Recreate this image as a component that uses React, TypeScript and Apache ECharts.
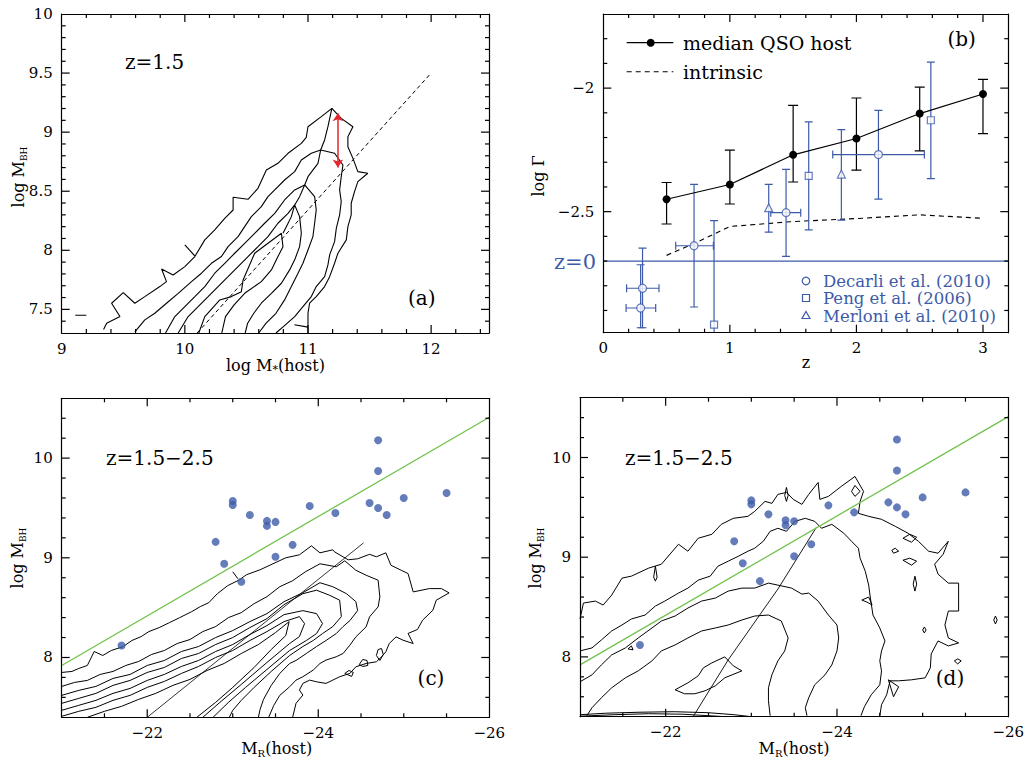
import React, { useEffect, useRef } from 'react';
import * as echarts from 'echarts';

const FONT = '"DejaVu Serif", "Liberation Serif", serif';
const BLUE = '#3d5ba9';
const GREEN = '#72c24c';
const RED = '#e3262b';

// ---------------- Axis ranges and tick steps ----------------
const A_X_RANGE = [9, 12.47];
const A_Y_RANGE = [7.3, 10];
const B_X_RANGE = [0, 3.2];
const B_Y_RANGE = [-2.99, -1.7];
const CD_X_RANGE = [-26, -21];
const CD_Y_RANGE = [7.4, 10.6];
const A_TICK_STEPS = { xMajor: 1, xMinor: 0.2, yMajor: 0.5, yMinor: 0.1 };
const B_TICK_STEPS = { xMajor: 1, xMinor: 0.2, yMajor: 0.5, yMinor: 0.1 };
const CD_TICK_STEPS = { xMajor: 2, xMinor: 0.5, yMajor: 1, yMinor: 0.2 };

// ---------------- Panel (a) ----------------
const A_OUTER = [[9.34,7.33],[9.365,7.383],[9.473,7.439],[9.405,7.552],[9.50,7.642],[9.594,7.552],[9.675,7.608],[9.797,7.693],[9.851,7.735],[9.811,7.842],[9.905,7.791],[10.0,7.862],[10.081,7.947],[10.162,8.088],[10.243,8.172],[10.324,8.271],[10.392,8.341],[10.392,8.449],[10.513,8.432],[10.594,8.525],[10.662,8.68],[10.756,8.736],[10.838,8.821],[10.946,8.905],[10.986,8.956],[11.0,9.046],[11.108,9.131],[11.194,9.201],[11.27,9.117],[11.365,9.046],[11.324,8.962],[11.324,8.877],[11.365,8.778],[11.405,8.666],[11.486,8.652],[11.405,8.581],[11.378,8.496],[11.351,8.398],[11.351,8.299],[11.324,8.2],[11.311,8.088],[11.243,7.975],[11.216,7.89],[11.176,7.777],[11.135,7.693],[11.067,7.608],[11.013,7.552],[11.0,7.467],[11.0,7.30]];
const A_B = [[9.594,7.31],[9.675,7.411],[9.756,7.467],[9.851,7.552],[9.946,7.636],[10.054,7.735],[10.135,7.806],[10.216,7.89],[10.297,7.947],[10.351,8.031],[10.432,8.116],[10.486,8.2],[10.54,8.285],[10.621,8.37],[10.675,8.454],[10.73,8.511],[10.81,8.595],[10.892,8.666],[10.946,8.764],[11.027,8.821],[11.103,8.849],[11.216,8.821],[11.284,8.722],[11.27,8.623],[11.257,8.511],[11.27,8.412],[11.257,8.299],[11.23,8.186],[11.216,8.073],[11.176,7.961],[11.162,7.876],[11.135,7.777],[11.067,7.693],[11.027,7.608],[10.959,7.524],[10.892,7.439],[10.8,7.354],[10.74,7.30]];
const A_C = [[9.843,7.30],[9.919,7.439],[10.0,7.524],[10.081,7.608],[10.162,7.693],[10.243,7.806],[10.324,7.89],[10.405,7.975],[10.486,8.059],[10.567,8.144],[10.648,8.229],[10.73,8.313],[10.81,8.426],[10.892,8.511],[10.973,8.553],[11.054,8.454],[11.067,8.341],[11.054,8.229],[11.04,8.116],[11.0,8.003],[10.959,7.89],[10.919,7.806],[10.865,7.693],[10.81,7.58],[10.74,7.467],[10.66,7.383],[10.60,7.30]];
const A_D = [[9.946,7.30],[10.027,7.439],[10.108,7.524],[10.189,7.608],[10.27,7.693],[10.351,7.777],[10.432,7.862],[10.513,7.947],[10.594,8.031],[10.675,8.116],[10.756,8.229],[10.838,8.313],[10.892,8.384],[10.932,8.285],[10.946,8.144],[10.932,8.031],[10.892,7.919],[10.851,7.834],[10.784,7.721],[10.703,7.636],[10.621,7.552],[10.56,7.467],[10.51,7.383],[10.49,7.30]];
const A_E = [[10.113,7.30],[10.162,7.439],[10.284,7.58],[10.378,7.608],[10.459,7.65],[10.473,7.749],[10.567,7.975],[10.621,8.017],[10.784,8.144],[10.797,8.031],[10.756,7.947],[10.703,7.834],[10.621,7.735],[10.486,7.636],[10.40,7.538],[10.33,7.439],[10.30,7.30]];
const A_RIDGE = [[11.194,9.201],[11.162,9.046],[11.135,8.934],[11.103,8.849],[11.081,8.736],[11.0,8.623],[10.973,8.553],[10.932,8.454],[10.892,8.384],[10.865,8.285],[10.824,8.2],[10.797,8.144]];
const A_TICK = [[10.0,8.045],[10.081,7.952]];
const A_SEG = [[10.89,7.37],[11.0,7.35]];
const A_LEFT_SEG = [[9.11,7.45],[9.2,7.45]];
const A_DASHED = [[10.1,7.3],[12.0,9.5]];
const A_ARROW = [[11.243,9.16],[11.243,8.70]];

// ---------------- Panel (b) ----------------
const MEDIAN_Z = [0.5, 1.0, 1.5, 2.0, 2.5, 3.0];
const MEDIAN_G = [-2.45, -2.39, -2.27, -2.204, -2.103, -2.024];
const MEDIAN_LO = [-2.55, -2.469, -2.38, -2.332, -2.254, -2.184];
const MEDIAN_HI = [-2.382, -2.251, -2.07, -2.04, -1.996, -1.965];
const INTRINSIC_Z = [0.5, 0.75, 1.0, 1.5, 2.0, 2.5, 3.0];
const INTRINSIC_G = [-2.677, -2.621, -2.56, -2.54, -2.528, -2.513, -2.527];
const Z0_LEVEL = -2.7;
const DECARLI_Z = [0.31, 0.295, 0.717, 1.444, 2.174];
const DECARLI_G = [-2.81, -2.89, -2.638, -2.504, -2.269];
const DECARLI_LO = [-2.97, -2.97, -2.886, -2.681, -2.449];
const DECARLI_HI = [-2.648, -2.715, -2.39, -2.329, -2.09];
const DECARLI_ZLO = [0.184, 0.18, 0.572, 1.323, 1.813];
const DECARLI_ZHI = [0.44, 0.414, 0.87, 1.56, 2.537];
const PENG_Z = [0.875, 1.623, 2.588];
const PENG_G = [-2.957, -2.355, -2.13];
const PENG_LO = [-3.1, -2.574, -2.366];
const PENG_HI = [-2.536, -2.137, -1.895];
const MERLONI_Z = [1.307, 1.881];
const MERLONI_G = [-2.484, -2.348];
const MERLONI_LO = [-2.583, -2.534];
const MERLONI_HI = [-2.39, -2.168];

// ---------------- Panels (c), (d) ----------------
const QSO_MR = [-21.7, -22.8, -22.9, -23.0, -23.0, -23.1, -23.2, -23.4, -23.4, -23.5, -23.5, -23.7, -23.9, -24.2, -24.6, -24.7, -24.7, -24.7, -24.8, -25.0, -25.5];
const QSO_MBH = [8.12, 9.16, 8.94, 9.57, 9.53, 8.76, 9.43, 9.37, 9.32, 9.36, 9.01, 9.13, 9.52, 9.45, 9.55, 10.18, 9.87, 9.50, 9.43, 9.60, 9.65];
const GREEN_MR = [-21, -26];
const GREEN_MBH = [7.92, 10.41];

const C_R = [[-21.0,7.85],[-21.12,7.86],[-21.2,7.89],[-21.3,7.92],[-21.38,8.06],[-21.48,8.02],[-21.58,8.07],[-21.72,8.11],[-21.82,8.17],[-21.93,8.21],[-22.02,8.26],[-22.14,8.30],[-22.26,8.35],[-22.38,8.40],[-22.52,8.46],[-22.62,8.51],[-22.72,8.55],[-22.82,8.64],[-22.94,8.72],[-23.08,8.78],[-23.16,8.83],[-23.32,8.88],[-23.47,8.94],[-23.62,9.0],[-23.78,9.03],[-23.92,9.12],[-24.02,9.05],[-24.17,9.08],[-24.19,9.06],[-24.35,8.98],[-24.46,8.99],[-24.6,9.035],[-24.68,9.01],[-24.79,9.05],[-24.85,8.925],[-24.97,8.875],[-25.05,8.842],[-25.11,8.658],[-25.3,8.691],[-25.44,8.691],[-25.53,8.648],[-25.38,8.575],[-25.34,8.474],[-25.22,8.374],[-25.16,8.281],[-25.05,8.241],[-25.11,8.14],[-24.99,8.174],[-24.91,8.207],[-24.83,8.14],[-24.79,8.057],[-24.74,8.007],[-24.68,7.957],[-24.56,7.94],[-24.44,7.907],[-24.37,7.84],[-24.25,7.807],[-24.17,7.773],[-24.09,7.74],[-23.98,7.756],[-23.9,7.773],[-23.82,7.74],[-23.78,7.673],[-23.82,7.623],[-23.74,7.54],[-23.70,7.40]];
const C_2 = [[-21.0,7.71],[-21.15,7.75],[-21.3,7.77],[-21.45,7.83],[-21.6,7.86],[-21.75,7.92],[-21.9,7.96],[-22.05,8.03],[-22.2,8.07],[-22.35,8.14],[-22.5,8.18],[-22.65,8.26],[-22.8,8.31],[-22.95,8.40],[-23.1,8.45],[-23.25,8.54],[-23.4,8.61],[-23.55,8.71],[-23.7,8.77],[-23.85,8.86],[-24.02,8.94],[-24.21,8.91],[-24.31,8.97],[-24.44,8.875],[-24.56,8.825],[-24.70,8.775],[-24.72,8.608],[-24.70,8.508],[-24.6,8.408],[-24.56,8.308],[-24.44,8.207],[-24.37,8.124],[-24.29,8.04],[-24.21,8.007],[-24.09,7.974],[-24.02,7.94],[-23.94,7.873],[-23.82,7.807],[-23.74,7.773],[-23.665,7.706],[-23.55,7.62],[-23.48,7.52],[-23.42,7.40]];
const C_3 = [[-21.0,7.62],[-21.2,7.67],[-21.4,7.71],[-21.6,7.79],[-21.8,7.83],[-22.0,7.92],[-22.2,7.97],[-22.4,8.06],[-22.6,8.11],[-22.8,8.20],[-23.0,8.27],[-23.2,8.36],[-23.4,8.44],[-23.6,8.56],[-23.82,8.65],[-24.02,8.75],[-24.17,8.71],[-24.33,8.64],[-24.44,8.56],[-24.46,8.47],[-24.37,8.37],[-24.29,8.31],[-24.21,8.24],[-24.09,8.17],[-23.98,8.11],[-23.86,8.04],[-23.74,7.97],[-23.665,7.94],[-23.55,7.84],[-23.45,7.72],[-23.36,7.58],[-23.32,7.48],[-23.3,7.40]];
const C_4 = [[-21.0,7.54],[-21.2,7.59],[-21.4,7.64],[-21.6,7.72],[-21.8,7.77],[-22.0,7.85],[-22.2,7.90],[-22.4,7.99],[-22.6,8.04],[-22.8,8.13],[-23.0,8.20],[-23.2,8.30],[-23.4,8.39],[-23.6,8.53],[-23.82,8.64],[-23.98,8.675],[-24.13,8.625],[-24.25,8.575],[-24.27,8.41],[-24.17,8.31],[-24.05,8.24],[-23.94,8.17],[-23.82,8.11],[-23.665,8.02],[-23.45,7.86],[-23.25,7.70],[-23.1,7.57],[-23.0,7.47],[-22.96,7.40]];
const C_5 = [[-21.0,7.47],[-21.2,7.52],[-21.4,7.57],[-21.6,7.64],[-21.8,7.69],[-22.0,7.77],[-22.2,7.83],[-22.4,7.91],[-22.6,7.97],[-22.8,8.06],[-23.0,8.13],[-23.2,8.23],[-23.4,8.32],[-23.6,8.43],[-23.82,8.47],[-23.98,8.44],[-24.05,8.34],[-23.98,8.24],[-23.86,8.17],[-23.665,8.07],[-23.4,7.88],[-23.15,7.70],[-22.95,7.55],[-22.77,7.40]];
const C_6 = [[-21.0,7.41],[-21.2,7.46],[-21.4,7.50],[-21.6,7.57],[-21.8,7.62],[-22.0,7.70],[-22.2,7.76],[-22.4,7.84],[-22.6,7.91],[-22.8,8.00],[-23.0,8.07],[-23.2,8.17],[-23.4,8.26],[-23.6,8.36],[-23.78,8.41],[-23.84,8.34],[-23.78,8.21],[-23.665,8.14],[-23.4,7.95],[-23.1,7.73],[-22.85,7.55],[-22.65,7.40]];
const C_7 = [[-21.3,7.40],[-21.5,7.46],[-21.7,7.51],[-21.9,7.58],[-22.1,7.64],[-22.3,7.72],[-22.5,7.78],[-22.7,7.87],[-22.9,7.94],[-23.1,8.04],[-23.3,8.13],[-23.5,8.25],[-23.66,8.36],[-23.62,8.22],[-23.45,8.08],[-23.25,7.90],[-23.0,7.70],[-22.8,7.55],[-22.58,7.40]];
const C_DIAG = [[-22.0,7.40],[-24.53,9.15]];
const C_TICK = [[-23.0,8.86],[-23.06,8.79]];
const C_LOOP1 = [[-24.31,7.84],[-24.36,7.87],[-24.41,7.85],[-24.39,7.81],[-24.31,7.84]];
const C_LOOP2 = [[-24.48,7.93],[-24.52,7.98],[-24.57,7.97],[-24.58,7.92],[-24.52,7.91],[-24.48,7.93]];
const C_LOOP3 = [[-24.68,8.02],[-24.70,8.08],[-24.74,8.09],[-24.76,8.03],[-24.72,7.97],[-24.68,8.02]];

const D_1 = [[-21.0,8.38],[-21.04,8.54],[-21.18,8.56],[-21.27,8.52],[-21.37,8.62],[-21.49,8.79],[-21.60,8.81],[-21.80,8.89],[-21.95,8.93],[-22.15,9.13],[-22.26,9.06],[-22.38,9.19],[-22.54,9.23],[-22.65,9.33],[-22.79,9.39],[-22.96,9.41],[-23.04,9.46],[-23.16,9.56],[-23.24,9.54],[-23.31,9.63],[-23.41,9.65],[-23.49,9.58],[-23.59,9.53],[-23.67,9.63],[-23.78,9.75],[-23.80,9.58],[-23.90,9.61],[-24.05,9.71],[-24.21,9.81],[-24.31,9.66],[-24.27,9.56],[-24.25,9.44],[-24.37,9.41],[-24.52,9.38],[-24.68,9.31],[-24.83,9.24],[-24.95,9.16],[-25.07,9.06],[-25.18,9.04],[-25.30,9.16],[-25.24,9.03],[-25.14,8.93],[-25.18,8.83],[-25.30,8.74],[-25.42,8.74],[-25.42,8.46],[-25.30,8.46],[-25.26,8.32],[-25.30,8.19],[-25.42,8.14],[-25.30,8.11],[-25.18,8.16],[-25.10,8.03],[-25.09,7.89],[-25.03,7.79],[-24.87,7.77],[-24.72,7.76],[-24.62,7.76],[-24.58,7.62],[-24.52,7.52],[-24.50,7.41]];
const D_2 = [[-21.0,8.06],[-21.14,8.09],[-21.25,8.17],[-21.37,8.26],[-21.49,8.32],[-21.60,8.38],[-21.76,8.42],[-21.88,8.51],[-21.99,8.56],[-22.15,8.64],[-22.26,8.69],[-22.38,8.77],[-22.52,8.81],[-22.61,8.91],[-22.73,8.96],[-22.85,9.01],[-22.96,9.06],[-23.04,9.09],[-23.14,9.16],[-23.22,9.26],[-23.31,9.29],[-23.41,9.26],[-23.51,9.36],[-23.63,9.39],[-23.74,9.36],[-23.82,9.29],[-23.94,9.33],[-24.08,9.24],[-24.17,9.16],[-24.25,9.09],[-24.27,8.99],[-24.33,8.86],[-24.37,8.72],[-24.39,8.59],[-24.42,8.42],[-24.50,8.29],[-24.56,8.16],[-24.52,8.06],[-24.50,7.96],[-24.52,7.86],[-24.50,7.72],[-24.40,7.62],[-24.32,7.50],[-24.28,7.41]];
const D_3 = [[-21.0,7.75],[-21.14,7.82],[-21.25,7.92],[-21.37,8.02],[-21.53,8.09],[-21.68,8.19],[-21.84,8.29],[-21.95,8.36],[-22.11,8.41],[-22.26,8.49],[-22.42,8.56],[-22.58,8.59],[-22.73,8.66],[-22.89,8.69],[-23.04,8.69],[-23.20,8.74],[-23.31,8.72],[-23.47,8.69],[-23.59,8.63],[-23.67,8.64],[-23.78,8.56],[-23.90,8.42],[-24.0,8.32],[-24.02,8.19],[-24.0,8.06],[-23.94,7.92],[-23.86,7.82],[-23.74,7.72],[-23.67,7.59],[-23.63,7.49],[-23.65,7.41]];
const D_4 = [[-21.08,7.41],[-21.14,7.49],[-21.25,7.59],[-21.37,7.69],[-21.53,7.79],[-21.68,7.86],[-21.84,7.96],[-21.95,8.06],[-22.11,8.12],[-22.26,8.19],[-22.42,8.26],[-22.58,8.29],[-22.73,8.32],[-22.89,8.37],[-23.04,8.41],[-23.20,8.42],[-23.35,8.36],[-23.43,8.19],[-23.39,8.06],[-23.31,7.96],[-23.24,7.82],[-23.20,7.69],[-23.20,7.56],[-23.22,7.41]];
const D_5 = [[-22.11,7.67],[-22.26,7.74],[-22.38,7.81],[-22.44,7.89],[-22.54,7.94],[-22.69,8.0],[-22.79,7.91],[-22.89,7.86],[-22.69,7.79],[-22.58,7.71],[-22.46,7.66],[-22.34,7.63],[-22.22,7.63],[-22.11,7.67]];
const D_ARC1 = [[-21.0,7.42],[-21.3,7.435],[-21.7,7.445],[-22.1,7.45],[-22.5,7.44],[-22.8,7.42],[-23.0,7.40]];
const D_ARC2 = [[-21.0,7.405],[-21.4,7.42],[-21.8,7.43],[-22.2,7.425],[-22.5,7.41],[-22.7,7.40]];
const D_DIAG = [[-22.32,7.40],[-22.73,7.97],[-23.31,8.68],[-23.76,9.30]];
const D_LOOPS = [
  [[-21.86,8.80],[-21.88,8.91],[-21.90,8.80],[-21.88,8.76],[-21.86,8.80]],
  [[-23.39,9.62],[-23.41,9.70],[-23.43,9.62],[-23.41,9.56],[-23.39,9.62]],
  [[-24.17,9.66],[-24.21,9.72],[-24.27,9.66],[-24.21,9.61],[-24.17,9.66]],
  [[-24.77,9.19],[-24.85,9.23],[-24.93,9.20],[-24.87,9.15],[-24.77,9.19]],
  [[-24.64,9.07],[-24.68,9.09],[-24.72,9.06],[-24.66,9.04],[-24.64,9.07]],
  [[-24.77,8.97],[-24.85,8.99],[-24.93,8.96],[-24.87,8.92],[-24.77,8.97]],
  [[-24.89,8.73],[-24.91,8.81],[-24.93,8.73],[-24.91,8.66],[-24.89,8.73]],
  [[-24.29,8.57],[-24.37,8.60],[-24.41,8.52],[-24.35,8.55],[-24.29,8.57]],
  [[-25.0,8.27],[-25.02,8.30],[-25.04,8.27],[-25.02,8.24],[-25.0,8.27]],
  [[-25.83,8.37],[-25.85,8.41],[-25.87,8.37],[-25.85,8.33],[-25.83,8.37]],
  [[-25.37,7.96],[-25.41,7.98],[-25.45,7.96],[-25.41,7.93],[-25.37,7.96]],
  [[-24.60,7.77],[-24.72,7.70],[-24.66,7.60],[-24.60,7.77]],
  [[-21.56,8.08],[-21.60,8.11],[-21.62,8.07],[-21.56,8.08]],
];

// ---------------- helpers ----------------
const zip = (a: number[], b: number[]) => a.map((v, i) => [v, b[i]]);
const fmt = (v: number) => {
  const r = Math.round(v * 100) / 100;
  const s = String(Math.abs(r));
  return r < 0 ? '\u2212' + s : s;
};
const isMult = (v: number, iv: number) => Math.abs(v / iv - Math.round(v / iv)) < 1e-6;

// tick positions strictly inside a range, at multiples of step
function tickValues(range: number[], step: number) {
  const out: number[] = [];
  const start = Math.ceil(range[0] / step - 1e-9);
  const end = Math.floor(range[1] / step + 1e-9);
  for (let k = start; k <= end; k++) {
    const v = Math.round(k * step * 1e6) / 1e6;
    if (v > range[0] + 1e-9 && v < range[1] - 1e-9) out.push(v);
  }
  return out;
}

function makeAxes(g: number, dim: 'x' | 'y', range: number[], major: number, inverse = false) {
  const pos = dim === 'x' ? ['bottom', 'top'] : ['left', 'right'];
  const mk = (position: string, labels: boolean) => ({
    type: 'value', gridIndex: g, min: range[0], max: range[1], inverse, position, z: 10,
    minInterval: major, maxInterval: major, splitNumber: Math.round((range[1] - range[0]) / major),
    axisLine: { show: true, onZero: false, lineStyle: { color: '#000', width: 1.2 } },
    splitLine: { show: false }, splitArea: { show: false },
    axisTick: { show: false },
    axisLabel: labels
      ? { show: true, margin: dim === 'x' ? 8 : 9, color: '#000', fontFamily: FONT, fontSize: 15,
          formatter: (v: number) => (isMult(v, major) ? fmt(v) : '') }
      : { show: false },
  });
  return [mk(pos[0], true), mk(pos[1], false)];
}

const GRID_BOXES = [
  { left: 61.7, top: 14, width: 427.3, height: 319 },
  { left: 603.3, top: 14, width: 405, height: 318.7 },
  { left: 61.7, top: 398.3, width: 427.6, height: 319 },
  { left: 580, top: 397.7, width: 428.3, height: 319 },
];

// frame ticks on all four sides, placed with the same linear mapping the axes use
function frameTicks(box: any, xr: number[], yr: number[], steps: any, xInverse = false) {
  const els: any[] = [];
  const st = { stroke: '#000', lineWidth: 1.2 };
  const toPx = (v: number) => box.left + ((xInverse ? xr[1] - v : v - xr[0]) / (xr[1] - xr[0])) * box.width;
  const toPy = (v: number) => box.top + box.height - ((v - yr[0]) / (yr[1] - yr[0])) * box.height;
  const bottom = box.top + box.height, top = box.top, left = box.left, right = box.left + box.width;
  tickValues(xr, steps.xMinor).forEach((v) => {
    const len = isMult(v, steps.xMajor) ? 8 : 4;
    const px = toPx(v);
    els.push({ type: 'line', silent: true, z: 90, shape: { x1: px, y1: bottom, x2: px, y2: bottom - len }, style: st });
    els.push({ type: 'line', silent: true, z: 90, shape: { x1: px, y1: top, x2: px, y2: top + len }, style: st });
  });
  tickValues(yr, steps.yMinor).forEach((v) => {
    const len = isMult(v, steps.yMajor) ? 8 : 4;
    const py = toPy(v);
    els.push({ type: 'line', silent: true, z: 90, shape: { x1: left, y1: py, x2: left + len, y2: py }, style: st });
    els.push({ type: 'line', silent: true, z: 90, shape: { x1: right, y1: py, x2: right - len, y2: py }, style: st });
  });
  return els;
}

const lineS = (g: number, data: number[][], extra: any = {}) => ({
  type: 'line', xAxisIndex: 2 * g, yAxisIndex: 2 * g, data, symbol: 'none', showSymbol: false,
  silent: true, lineStyle: { color: '#000', width: 1, ...(extra.lineStyle || {}) }, z: extra.z ?? 2,
});

const errData = (xs: number[], ys: number[], lo: number[], hi: number[], xlo?: number[], xhi?: number[]) =>
  xs.map((x, i) => [x, ys[i], lo[i], hi[i], xlo ? xlo[i] : x, xhi ? xhi[i] : x]);

const errSeries = (g: number, data: number[][], color: string, cap: number) => ({
  type: 'custom', xAxisIndex: 2 * g, yAxisIndex: 2 * g, clip: true, silent: true, z: 3,
  encode: { x: [0, 4, 5], y: [1, 2, 3] },
  data,
  renderItem: (params: any, api: any) => {
    const x = api.value(0), y = api.value(1), ylo = api.value(2), yhi = api.value(3), xlo = api.value(4), xhi = api.value(5);
    const lo = api.coord([x, ylo]);
    const hi = api.coord([x, yhi]);
    const st = { stroke: color, lineWidth: 1.2, fill: 'none' };
    const children: any[] = [
      { type: 'line', shape: { x1: lo[0], y1: lo[1], x2: hi[0], y2: hi[1] }, style: st },
      { type: 'line', shape: { x1: lo[0] - cap, y1: lo[1], x2: lo[0] + cap, y2: lo[1] }, style: st },
      { type: 'line', shape: { x1: hi[0] - cap, y1: hi[1], x2: hi[0] + cap, y2: hi[1] }, style: st },
    ];
    if (xhi > xlo) {
      const l = api.coord([xlo, y]);
      const r = api.coord([xhi, y]);
      children.push(
        { type: 'line', shape: { x1: l[0], y1: l[1], x2: r[0], y2: r[1] }, style: st },
        { type: 'line', shape: { x1: l[0], y1: l[1] - cap, x2: l[0], y2: l[1] + cap }, style: st },
        { type: 'line', shape: { x1: r[0], y1: r[1] - cap, x2: r[0], y2: r[1] + cap }, style: st },
      );
    }
    return { type: 'group', children };
  },
});

const txt = (x: number, y: number, text: string, size: number, align = 'left', color = '#000', extra: any = {}) => ({
  type: 'text', x, y, silent: true, z: 100, ...extra,
  style: {
    text, fill: color, fontFamily: FONT, fontSize: size,
    align, verticalAlign: 'middle', textAlign: align, textVerticalAlign: 'middle',
    ...(extra.style || {}),
  },
});

const subRich = (main: number, sub: number) => ({
  lineHeight: main + 4,
  rich: { s: { fontFamily: FONT, fontSize: sub, lineHeight: sub, verticalAlign: 'bottom', fill: '#000' } },
});

function buildOption() {
  const grids = GRID_BOXES.map((g) => ({ ...g, show: false, containLabel: false, outerBoundsMode: 'none' }));

  const xAxis = [
    ...makeAxes(0, 'x', A_X_RANGE, A_TICK_STEPS.xMajor),
    ...makeAxes(1, 'x', B_X_RANGE, B_TICK_STEPS.xMajor),
    ...makeAxes(2, 'x', CD_X_RANGE, CD_TICK_STEPS.xMajor, true),
    ...makeAxes(3, 'x', CD_X_RANGE, CD_TICK_STEPS.xMajor, true),
  ];
  const yAxis = [
    ...makeAxes(0, 'y', A_Y_RANGE, A_TICK_STEPS.yMajor),
    ...makeAxes(1, 'y', B_Y_RANGE, B_TICK_STEPS.yMajor),
    ...makeAxes(2, 'y', CD_Y_RANGE, CD_TICK_STEPS.yMajor),
    ...makeAxes(3, 'y', CD_Y_RANGE, CD_TICK_STEPS.yMajor),
  ];

  const series: any[] = [];
  // (a)
  [A_OUTER, A_B, A_C, A_D, A_E, A_RIDGE, A_TICK, A_SEG, A_LEFT_SEG].forEach((d) => series.push(lineS(0, d, { lineStyle: { width: 1.1 } })));
  series.push(lineS(0, A_DASHED, { lineStyle: { type: [4, 3], width: 1 } }));
  series.push({
    type: 'lines', coordinateSystem: 'cartesian2d', xAxisIndex: 0, yAxisIndex: 0, silent: true, z: 5,
    data: [{ coords: A_ARROW }], symbol: ['arrow', 'arrow'], symbolSize: 8,
    lineStyle: { color: RED, width: 1.5, opacity: 1, curveness: 0 },
  });

  // (b)
  series.push({
    type: 'line', xAxisIndex: 2, yAxisIndex: 2, data: [[0, Z0_LEVEL], [3.2, Z0_LEVEL]], symbol: 'none', silent: true,
    lineStyle: { color: BLUE, width: 1.2 }, z: 1,
  });
  series.push(lineS(1, zip(INTRINSIC_Z, INTRINSIC_G), { lineStyle: { type: [5, 4], width: 1.1 } }));
  series.push(errSeries(1, errData(MEDIAN_Z, MEDIAN_G, MEDIAN_LO, MEDIAN_HI), '#000', 5));
  series.push({
    type: 'line', xAxisIndex: 2, yAxisIndex: 2, data: zip(MEDIAN_Z, MEDIAN_G), symbol: 'circle', symbolSize: 8, silent: true,
    itemStyle: { color: '#000' }, lineStyle: { color: '#000', width: 1.2 }, z: 4,
  });
  series.push(errSeries(1, errData(DECARLI_Z, DECARLI_G, DECARLI_LO, DECARLI_HI, DECARLI_ZLO, DECARLI_ZHI), BLUE, 4));
  series.push(errSeries(1, errData(PENG_Z, PENG_G, PENG_LO, PENG_HI), BLUE, 4));
  series.push(errSeries(1, errData(MERLONI_Z, MERLONI_G, MERLONI_LO, MERLONI_HI), BLUE, 4));
  const openStyle = { color: '#fff', borderColor: BLUE, borderWidth: 1.2 };
  series.push({ type: 'scatter', xAxisIndex: 2, yAxisIndex: 2, data: zip(DECARLI_Z, DECARLI_G), symbol: 'circle', symbolSize: 8, itemStyle: openStyle, z: 5, silent: true });
  series.push({ type: 'scatter', xAxisIndex: 2, yAxisIndex: 2, data: zip(PENG_Z, PENG_G), symbol: 'rect', symbolSize: 7, itemStyle: openStyle, z: 5, silent: true });
  series.push({ type: 'scatter', xAxisIndex: 2, yAxisIndex: 2, data: zip(MERLONI_Z, MERLONI_G), symbol: 'triangle', symbolSize: 8, itemStyle: openStyle, z: 5, silent: true });

  // (c)
  [C_R, C_2, C_3, C_4, C_5, C_6, C_7, C_TICK, C_LOOP1, C_LOOP2, C_LOOP3].forEach((d) => series.push(lineS(2, d)));
  series.push(lineS(2, C_DIAG, { lineStyle: { width: 0.8 } }));
  // (d)
  [D_1, D_2, D_3, D_4, D_5, D_ARC1, D_ARC2, ...D_LOOPS].forEach((d) => series.push(lineS(3, d)));
  series.push(lineS(3, D_DIAG, { lineStyle: { width: 0.9 } }));

  [2, 3].forEach((g) => {
    series.push({
      type: 'line', xAxisIndex: 2 * g, yAxisIndex: 2 * g, data: zip(GREEN_MR, GREEN_MBH), symbol: 'none', silent: true,
      lineStyle: { color: GREEN, width: 1.3 }, z: 4,
    });
    series.push({
      type: 'scatter', xAxisIndex: 2 * g, yAxisIndex: 2 * g, data: zip(QSO_MR, QSO_MBH), symbol: 'circle', symbolSize: 8,
      itemStyle: { color: BLUE }, z: 6, silent: true,
    });
  });

  const R90 = Math.PI / 2;
  const legendStyle = { style: { lineHeight: 15 } };
  const graphic: any[] = [
    ...frameTicks(GRID_BOXES[0], A_X_RANGE, A_Y_RANGE, A_TICK_STEPS),
    ...frameTicks(GRID_BOXES[1], B_X_RANGE, B_Y_RANGE, B_TICK_STEPS),
    ...frameTicks(GRID_BOXES[2], CD_X_RANGE, CD_Y_RANGE, CD_TICK_STEPS, true),
    ...frameTicks(GRID_BOXES[3], CD_X_RANGE, CD_Y_RANGE, CD_TICK_STEPS, true),
    // panel labels
    txt(125, 62, 'z=1.5', 20),
    txt(421.7, 298, '(a)', 20, 'center'),
    txt(961.7, 39, '(b)', 20, 'center'),
    txt(106, 458, 'z=1.5\u22122.5', 20),
    txt(431, 678, '(c)', 20, 'center'),
    txt(625, 458, 'z=1.5\u22122.5', 20),
    txt(950, 678, '(d)', 20, 'center'),
    txt(596, 262, 'z=0', 21, 'right', BLUE),
    // axis titles
    txt(275.5, 365, 'log M{s|*}(host)', 16, 'center', '#000', { style: subRich(16, 11) }),
    txt(18, 177, 'log M{s|BH}', 16, 'center', '#000', { rotation: R90, style: subRich(16, 9) }),
    txt(806, 362, 'z', 16, 'center'),
    txt(538, 176, 'log \u0393', 16, 'center', '#000', { rotation: R90 }),
    txt(276.7, 748, 'M{s|R}(host)', 16, 'center', '#000', { style: subRich(16, 10) }),
    txt(17, 558, 'log M{s|BH}', 16, 'center', '#000', { rotation: R90, style: subRich(16, 9) }),
    txt(794, 748, 'M{s|R}(host)', 16, 'center', '#000', { style: subRich(16, 10) }),
    txt(535, 558, 'log M{s|BH}', 16, 'center', '#000', { rotation: R90, style: subRich(16, 9) }),
    // legend (b)
    { type: 'line', shape: { x1: 626.7, y1: 42.7, x2: 673.3, y2: 42.7 }, style: { stroke: '#000', lineWidth: 1.2 }, silent: true, z: 100 },
    { type: 'circle', shape: { cx: 650.7, cy: 42.7, r: 4 }, style: { fill: '#000' }, silent: true, z: 100 },
    txt(683, 42.7, 'median QSO host', 19),
    { type: 'line', shape: { x1: 626.7, y1: 71.7, x2: 673.3, y2: 71.7 }, style: { stroke: '#000', lineWidth: 1.1, lineDash: [5, 4] }, silent: true, z: 100 },
    txt(683, 71.7, 'intrinsic', 19),
    { type: 'circle', shape: { cx: 806, cy: 281, r: 3.8 }, style: { fill: '#fff', stroke: BLUE, lineWidth: 1.2 }, silent: true, z: 100 },
    { type: 'rect', shape: { x: 802.5, y: 294.5, width: 7, height: 7 }, style: { fill: '#fff', stroke: BLUE, lineWidth: 1.2 }, silent: true, z: 100 },
    { type: 'polygon', shape: { points: [[806, 311.5], [810, 318.5], [802, 318.5]] }, style: { fill: '#fff', stroke: BLUE, lineWidth: 1.2 }, silent: true, z: 100 },
    txt(823, 281, 'Decarli et al. (2010)', 16.5, 'left', BLUE, legendStyle),
    txt(823, 298.5, 'Peng et al. (2006)', 16.5, 'left', BLUE, legendStyle),
    txt(823, 316, 'Merloni et al. (2010)', 16.5, 'left', BLUE, legendStyle),
  ];

  return { animation: false, backgroundColor: '#fff', grid: grids, xAxis, yAxis, series, graphic };
}

export default function App() {
  const ref = useRef<HTMLDivElement>(null);
  useEffect(() => {
    const chart = echarts.init(ref.current as HTMLDivElement, null, { renderer: 'svg' });
    chart.setOption(buildOption() as any);
    return () => chart.dispose();
  }, []);
  return <div ref={ref} style={{ position: 'fixed', left: 0, top: 0, width: 1031, height: 760, background: '#fff' }} />;
}
